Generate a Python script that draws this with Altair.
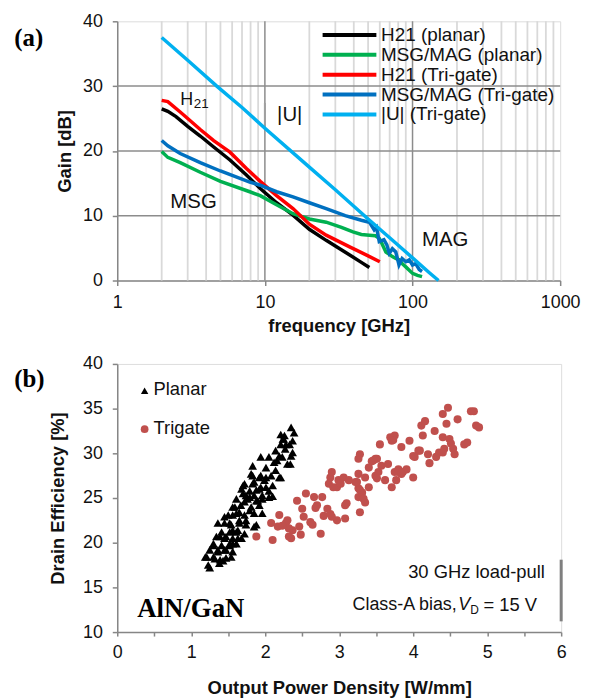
import altair as alt
import pandas as pd

FONT = "Liberation Sans"
SERIF = "Liberation Serif"

# ---------------- panel (a) data ----------------
series_names = ["H21 (planar)", "MSG/MAG (planar)", "H21 (Tri-gate)",
                "MSG/MAG (Tri-gate)", "|U| (Tri-gate)"]
series_colors = ["#000000", "#00B050", "#FF0000", "#0070C0", "#00B0F0"]

h21_planar_f = [2, 2.2, 2.5, 3, 3.65, 4.5, 5.8, 7.5, 9.3, 12, 15.5, 20, 26, 35.5, 45, 51]
h21_planar_g = [26.5, 26.1, 25.3, 23.8, 22.3, 20.6, 18.6, 16.3, 14.2, 12.0, 10.1, 7.9, 6.2, 4.3, 2.8, 2.0]

msg_planar_f = [2, 2.2, 2.67, 3.65, 5, 7.9, 9.3, 12, 15.5, 20, 26, 33, 39.5, 45, 51, 56,
                59.5, 62, 66, 70, 73, 77, 81, 85, 90, 95, 100, 108, 116]
msg_planar_g = [19.9, 19.0, 18.2, 16.7, 15.3, 13.7, 13.1, 11.7, 10.3, 9.5, 9.0, 8.2, 7.5,
                7.1, 7.0, 6.9, 6.5, 5.7, 4.4, 4.0, 3.7, 3.4, 3.2, 2.6, 2.1, 1.6, 1.1, 0.8, 0.6]

h21_tri_f = [2, 2.2, 2.67, 3, 3.65, 4.5, 5.8, 7.5, 9.3, 12, 15.5, 20, 26, 37.5, 50, 60]
h21_tri_g = [27.8, 27.6, 26.0, 25.0, 23.3, 21.6, 19.8, 17.3, 15.3, 13.1, 11.1, 8.7, 7.0, 5.2, 3.8, 2.9]

msg_tri_f = [2, 2.2, 2.67, 3.65, 5, 7.9, 9.3, 12, 15.5, 20, 26, 35, 45, 51, 55, 57, 59.5,
             64, 67, 69.6, 73, 77, 81, 85, 90, 95, 100, 105, 111, 116]
msg_tri_g = [21.6, 20.8, 19.6, 18.2, 16.9, 15.2, 14.7, 13.7, 12.9, 12.0, 11.1, 10.0, 9.3,
             9.0, 7.8, 8.2, 6.0, 6.3, 5.5, 4.2, 4.9, 4.4, 2.4, 3.4, 2.9, 3.2, 2.4, 2.6, 1.7, 1.4]

u_tri_f = [2, 3, 4.72, 7, 10, 20, 30, 50, 70, 100, 130, 150]
u_tri_g = [37.5, 34.0, 30.0, 26.7, 23.5, 17.5, 14.0, 9.5, 6.6, 3.5, 1.2, 0.0]

freq_ticks = [1, 10, 100, 1000]
gain_ticks = [0, 10, 20, 30, 40]
minor_freqs = [2, 3, 4, 5, 6, 7, 8, 9, 20, 30, 40, 50, 60, 70, 80, 90,
               200, 300, 400, 500, 600, 700, 800, 900]
major_freqs = [10, 100]
gain_grid = [10, 20, 30]

# ---------------- panel (b) data ----------------
planar_x = [1.19, 1.25, 1.39, 1.30, 1.36, 1.30, 1.39, 1.47, 1.45, 1.52, 1.47, 1.56, 1.52, 1.36,
            1.45, 1.56, 1.59, 1.65, 1.65, 1.61, 1.63, 1.56, 1.72, 1.70, 1.70, 1.76, 1.79, 1.74,
            1.83, 1.83, 1.83, 1.92, 1.88, 1.88, 1.85, 1.88, 1.94, 1.94, 1.96, 1.96, 2.01, 2.01,
            2.01, 2.05, 2.05, 2.10, 2.14, 2.16, 2.14, 2.19, 2.21, 2.21, 2.25, 2.27, 2.30, 2.35,
            2.39, 2.37, 2.26, 2.33, 2.23, 2.21, 2.24, 2.28, 2.37, 2.19, 2.35, 2.12, 2.34, 1.81,
            1.94, 2.08, 1.72, 1.85, 1.99, 2.10, 1.68, 1.79, 1.92, 2.05, 1.74, 1.85, 1.96, 1.61,
            1.79, 1.90, 1.56, 1.67, 1.81, 1.92, 1.50, 1.61, 1.72, 1.45, 1.54, 1.65, 1.74, 1.85,
            1.41, 1.52, 1.63, 1.72, 1.34, 1.45, 1.56, 1.68, 1.30, 1.41, 1.52, 1.61, 1.25, 1.36,
            1.47, 1.56, 1.21, 1.32, 1.43, 1.54, 1.23, 1.38]
planar_y = [18.4, 17.2, 20.7, 19.7, 19.2, 18.4, 18.1, 18.3, 19.2, 19.9, 20.7, 21.4, 22.2, 22.2,
            22.9, 23.1, 24.0, 23.4, 22.2, 21.2, 20.5, 19.9, 24.6, 25.5, 26.4, 24.9, 23.6, 22.5,
            26.6, 27.5, 28.6, 27.3, 25.9, 24.7, 23.3, 22.0, 29.6, 26.2, 24.9, 23.3, 28.4, 27.3,
            26.2, 29.6, 25.1, 25.2, 30.3, 29.2, 28.1, 27.3, 31.0, 32.1, 31.6, 30.5, 28.8, 32.9,
            32.3, 30.1, 32.0, 31.0, 29.6, 27.3, 31.6, 31.0, 31.4, 29.7, 29.7, 29.0, 28.8, 27.7,
            27.5, 27.5, 26.6, 26.8, 27.0, 26.4, 26.0, 25.8, 26.0, 25.8, 25.3, 25.3, 25.3, 24.9,
            25.1, 24.7, 24.0, 24.2, 24.0, 24.2, 23.1, 23.3, 23.1, 22.2, 22.0, 22.5, 22.0, 21.8,
            21.2, 21.2, 21.4, 21.0, 20.7, 20.5, 20.5, 20.5, 19.9, 19.7, 19.7, 19.9, 19.2, 19.0,
            19.2, 19.0, 18.4, 18.2, 18.0, 18.4, 17.5, 17.7]

trigate_x = [1.88, 2.08, 2.10, 2.17, 2.19, 2.30, 2.35, 2.37, 2.46, 2.43, 2.50, 2.52, 2.55, 2.61,
             2.66, 2.68, 2.75, 2.77, 2.79, 2.84, 2.88, 2.86, 2.88, 2.97, 2.97, 2.99, 3.08, 3.08,
             3.06, 2.28, 2.32, 2.48, 2.64, 2.70, 2.90, 2.92, 2.90, 3.02, 3.10, 3.24, 3.26, 3.26,
             3.31, 3.33, 3.35, 3.28, 3.40, 3.44, 3.49, 3.49, 3.53, 3.62, 3.57, 3.66, 3.71, 3.69,
             3.75, 3.73, 3.75, 3.80, 3.84, 3.86, 3.91, 3.95, 4.00, 4.02, 4.07, 4.11, 4.16, 4.13,
             4.20, 4.22, 4.29, 4.31, 4.35, 4.40, 4.47, 4.45, 4.40, 4.42, 4.49, 4.51, 4.54, 4.56,
             4.60, 4.69, 4.73, 4.78, 4.82, 4.85, 4.89, 3.55, 3.71, 4.09, 3.28, 3.26, 3.46, 3.51,
             3.80, 3.84, 4.00, 4.40, 3.26, 3.22, 3.35, 3.51, 3.77, 3.28, 3.40, 3.13, 2.23, 2.32]
trigate_y = [20.7, 22.2, 20.3, 21.8, 23.1, 22.5, 20.5, 21.4, 21.8, 24.7, 23.8, 22.9, 25.5, 22.3,
             25.1, 23.9, 21.0, 25.1, 23.0, 23.8, 27.3, 26.6, 23.2, 26.2, 22.5, 27.0, 22.7, 24.2,
             27.3, 22.2, 21.6, 20.9, 22.0, 24.2, 27.9, 26.2, 22.9, 26.6, 24.4, 26.8, 26.1, 25.1,
             25.6, 24.9, 24.5, 23.4, 28.4, 29.1, 29.4, 27.5, 27.9, 27.0, 28.6, 28.8, 26.2, 31.8,
             32.0, 31.5, 27.9, 28.2, 30.7, 27.9, 28.2, 31.4, 27.3, 29.6, 30.3, 33.1, 33.6, 32.0,
             29.9, 28.9, 32.5, 29.6, 30.1, 34.4, 35.1, 33.3, 31.8, 30.5, 31.6, 31.1, 30.5, 29.9,
             33.8, 31.0, 31.2, 34.7, 34.7, 33.1, 32.9, 31.0, 31.4, 30.3, 29.9, 29.4, 29.2, 29.4,
             27.9, 27.7, 29.7, 30.1, 27.7, 26.8, 27.3, 27.2, 27.0, 25.9, 26.2, 27.0, 21.9, 20.7]

power_ticks = [0, 0.5, 1, 1.5, 2, 2.5, 3, 3.5, 4, 4.5, 5, 5.5, 6]
eff_ticks = [10, 15, 20, 25, 30, 35, 40]

# ---------------- shared styling ----------------
AX_GRAY = "#868686"
TXT = "#111111"


def axis(title, values, **kw):
    base = dict(values=values, title=title, labelFont=FONT, labelFontSize=18,
                labelColor=TXT, titleFont=FONT, titleFontSize=18.5, titleFontWeight="bold",
                titleColor=TXT, grid=False, domainColor=AX_GRAY, domainWidth=1.5,
                tickColor=AX_GRAY, tickWidth=1.5, tickSize=5, labelFlush=False,
                labelOverlap=False)
    base.update(kw)
    return alt.Axis(**base)


xa_scale = alt.Scale(type="log", domain=[1, 1000], nice=False)
ya_scale = alt.Scale(domain=[0, 40], nice=False, zero=False)
xa_axis = axis("frequency [GHz]", freq_ticks, format="d", labelPadding=8, titlePadding=5)
ya_axis = axis("Gain [dB]", gain_ticks, labelPadding=10, titlePadding=8)


def XA(field):
    return alt.X(field, type="quantitative", scale=xa_scale, axis=xa_axis)


def YA(field):
    return alt.Y(field, type="quantitative", scale=ya_scale, axis=ya_axis)


rows = []
for name, fs, gs in zip(series_names,
                        [h21_planar_f, msg_planar_f, h21_tri_f, msg_tri_f, u_tri_f],
                        [h21_planar_g, msg_planar_g, h21_tri_g, msg_tri_g, u_tri_g]):
    for i, (f, g) in enumerate(zip(fs, gs)):
        rows.append({"series": name, "f": f, "g": g, "idx": i})
lines_df = pd.DataFrame(rows)

color_scale = alt.Scale(domain=series_names, range=series_colors)

minor_grid = alt.Chart(pd.DataFrame({"f": minor_freqs})).mark_rule(
    color="#D9D9D9", strokeWidth=1.8).encode(x=XA("f"))
major_grid = alt.Chart(pd.DataFrame({"f": major_freqs})).mark_rule(
    color="#8C8C8C", strokeWidth=1.5).encode(x=XA("f"))
h_grid = alt.Chart(pd.DataFrame({"g": gain_grid})).mark_rule(
    color="#8C8C8C", strokeWidth=1.5).encode(y=YA("g"))
artifact_a = alt.Chart(pd.DataFrame({"f": [10], "g1": [23.3], "g2": [27.4]})).mark_rule(
    color="#A0A0A0", strokeWidth=2).encode(x=XA("f"), y=YA("g1"), y2="g2")

lines = alt.Chart(lines_df).mark_line(strokeWidth=3.5).encode(
    x=XA("f"), y=YA("g"),
    color=alt.Color("series:N", scale=color_scale, legend=None),
    order="idx:Q")

# annotations (a)
ann_big = pd.DataFrame({"t": ["|U|", "MSG", "MAG"],
                        "f": [12.1, 2.29, 116], "g": [25.6, 12.1, 6.3]})
ann_text = alt.Chart(ann_big).mark_text(font=FONT, fontSize=20.5, align="left",
                                        baseline="middle", color=TXT).encode(
    x=XA("f"), y=YA("g"), text="t:N")
ann_h = alt.Chart(pd.DataFrame({"t": ["H"], "f": [2.67], "g": [27.9]})).mark_text(
    font=FONT, fontSize=18, align="left", baseline="middle", color=TXT).encode(
    x=XA("f"), y=YA("g"), text="t:N")
ann_sub = alt.Chart(pd.DataFrame({"t": ["21"], "f": [3.3], "g": [27.2]})).mark_text(
    font=FONT, fontSize=13.5, align="left", baseline="middle", color=TXT).encode(
    x=XA("f"), y=YA("g"), text="t:N")

# legend (a)
leg_rows = []
for i, name in enumerate(series_names):
    leg_rows.append({"series": name, "f1": 24.6, "f2": 56.9, "ft": 61.2,
                     "g": 37.9 - 3.07 * i})
leg_df = pd.DataFrame(leg_rows)
leg_lines = alt.Chart(leg_df).mark_rule(strokeWidth=4).encode(
    x=XA("f1"), x2="f2", y=YA("g"),
    color=alt.Color("series:N", scale=color_scale, legend=None))
leg_text = alt.Chart(leg_df).mark_text(font=FONT, fontSize=19, align="left",
                                       baseline="middle", color=TXT).encode(
    x=XA("ft"), y=YA("g"), text="series:N")

label_a = alt.Chart(pd.DataFrame({"t": ["(a)"]})).mark_text(
    font=SERIF, fontSize=25, fontWeight="bold", align="left", baseline="middle",
    color="#000").encode(x=alt.value(-103.7), y=alt.value(16.5), text="t:N")

panel_a = alt.layer(minor_grid, major_grid, h_grid, artifact_a, lines, ann_text, ann_h,
                    ann_sub, leg_lines, leg_text, label_a).properties(width=446, height=261)

# ---------------- panel (b) ----------------
xb_scale = alt.Scale(domain=[0, 6], nice=False, zero=False)
yb_scale = alt.Scale(domain=[10, 40], nice=False, zero=False)
xb_axis = axis("Output Power Density [W/mm]", power_ticks, format="~g",
               labelExpr="datum.value % 1 === 0 ? datum.label : ''",
               labelPadding=8, titlePadding=17, tickSize=4)
yb_axis = axis("Drain Efficiency [%]", eff_ticks, labelPadding=10, titlePadding=15)


def XB(field):
    return alt.X(field, type="quantitative", scale=xb_scale, axis=xb_axis)


def YB(field):
    return alt.Y(field, type="quantitative", scale=yb_scale, axis=yb_axis)


planar_pts = alt.Chart(pd.DataFrame({"x": planar_x, "y": planar_y})).mark_point(
    shape="triangle-up", filled=True, color="#000000", size=78, opacity=1).encode(
    x=XB("x"), y=YB("y"))
trigate_pts = alt.Chart(pd.DataFrame({"x": trigate_x, "y": trigate_y})).mark_circle(
    color="#C0504D", size=66, opacity=1).encode(x=XB("x"), y=YB("y"))

leg_b_tri = alt.Chart(pd.DataFrame({"x": [0.37], "y": [37.0]})).mark_point(
    shape="triangle-up", filled=True, color="#000000", size=55, opacity=1).encode(
    x=XB("x"), y=YB("y"))
leg_b_circ = alt.Chart(pd.DataFrame({"x": [0.37], "y": [32.7]})).mark_circle(
    color="#C0504D", size=60, opacity=1).encode(x=XB("x"), y=YB("y"))
leg_b_text = alt.Chart(pd.DataFrame({"t": ["Planar", "Trigate"], "x": [0.49, 0.49],
                                     "y": [37.2, 32.8]})).mark_text(
    font=FONT, fontSize=18.5, align="left", baseline="middle", color=TXT).encode(
    x=XB("x"), y=YB("y"), text="t:N")

note1 = alt.Chart(pd.DataFrame({"t": ["30 GHz load-pull"], "x": [5.78], "y": [16.74]})).mark_text(
    font=FONT, fontSize=18.5, align="right", baseline="middle", color=TXT).encode(
    x=XB("x"), y=YB("y"), text="t:N")
note2a = alt.Chart(pd.DataFrame({"t": ["Class-A bias,"], "x": [3.18], "y": [13.08]})).mark_text(
    font=FONT, fontSize=18, align="left", baseline="middle", color=TXT).encode(
    x=XB("x"), y=YB("y"), text="t:N")
note2v = alt.Chart(pd.DataFrame({"t": ["V"], "x": [4.61], "y": [13.08]})).mark_text(
    font=FONT, fontSize=18, fontStyle="italic", align="left", baseline="middle",
    color=TXT).encode(x=XB("x"), y=YB("y"), text="t:N")
note2d = alt.Chart(pd.DataFrame({"t": ["D"], "x": [4.77], "y": [12.5]})).mark_text(
    font=FONT, fontSize=12, align="left", baseline="middle", color=TXT).encode(
    x=XB("x"), y=YB("y"), text="t:N")
note2e = alt.Chart(pd.DataFrame({"t": ["= 15 V"], "x": [4.95], "y": [13.08]})).mark_text(
    font=FONT, fontSize=18.5, align="left", baseline="middle", color=TXT).encode(
    x=XB("x"), y=YB("y"), text="t:N")
aln = alt.Chart(pd.DataFrame({"t": ["AlN/GaN"], "x": [0.27], "y": [11.74]})).mark_text(
    font=SERIF, fontSize=27, fontWeight="bold", align="left", baseline="alphabetic",
    color="#000").encode(x=XB("x"), y=YB("y"), text="t:N")
artifact_b = alt.Chart(pd.DataFrame({"x": [6], "y1": [11.2], "y2": [18.1]})).mark_rule(
    color="#7F7F7F", strokeWidth=3).encode(x=XB("x"), y=YB("y1"), y2="y2")

label_b = alt.Chart(pd.DataFrame({"t": ["(b)"]})).mark_text(
    font=SERIF, fontSize=25, fontWeight="bold", align="left", baseline="middle",
    color="#000").encode(x=alt.value(-103.7), y=alt.value(15), text="t:N")

panel_b = alt.layer(planar_pts, trigate_pts, leg_b_tri, leg_b_circ, leg_b_text, note1,
                    note2a, note2v, note2d, note2e, aln, artifact_b,
                    label_b).properties(width=447, height=270)

chart = alt.vconcat(panel_a, panel_b, spacing=19).properties(
    padding={"left": 5, "top": 1, "right": 5, "bottom": 2}
).configure_view(stroke="#8C8C8C", strokeWidth=1.5).configure(background="white")

chart.save("out.html", embed_options={"renderer": "svg", "actions": False})
